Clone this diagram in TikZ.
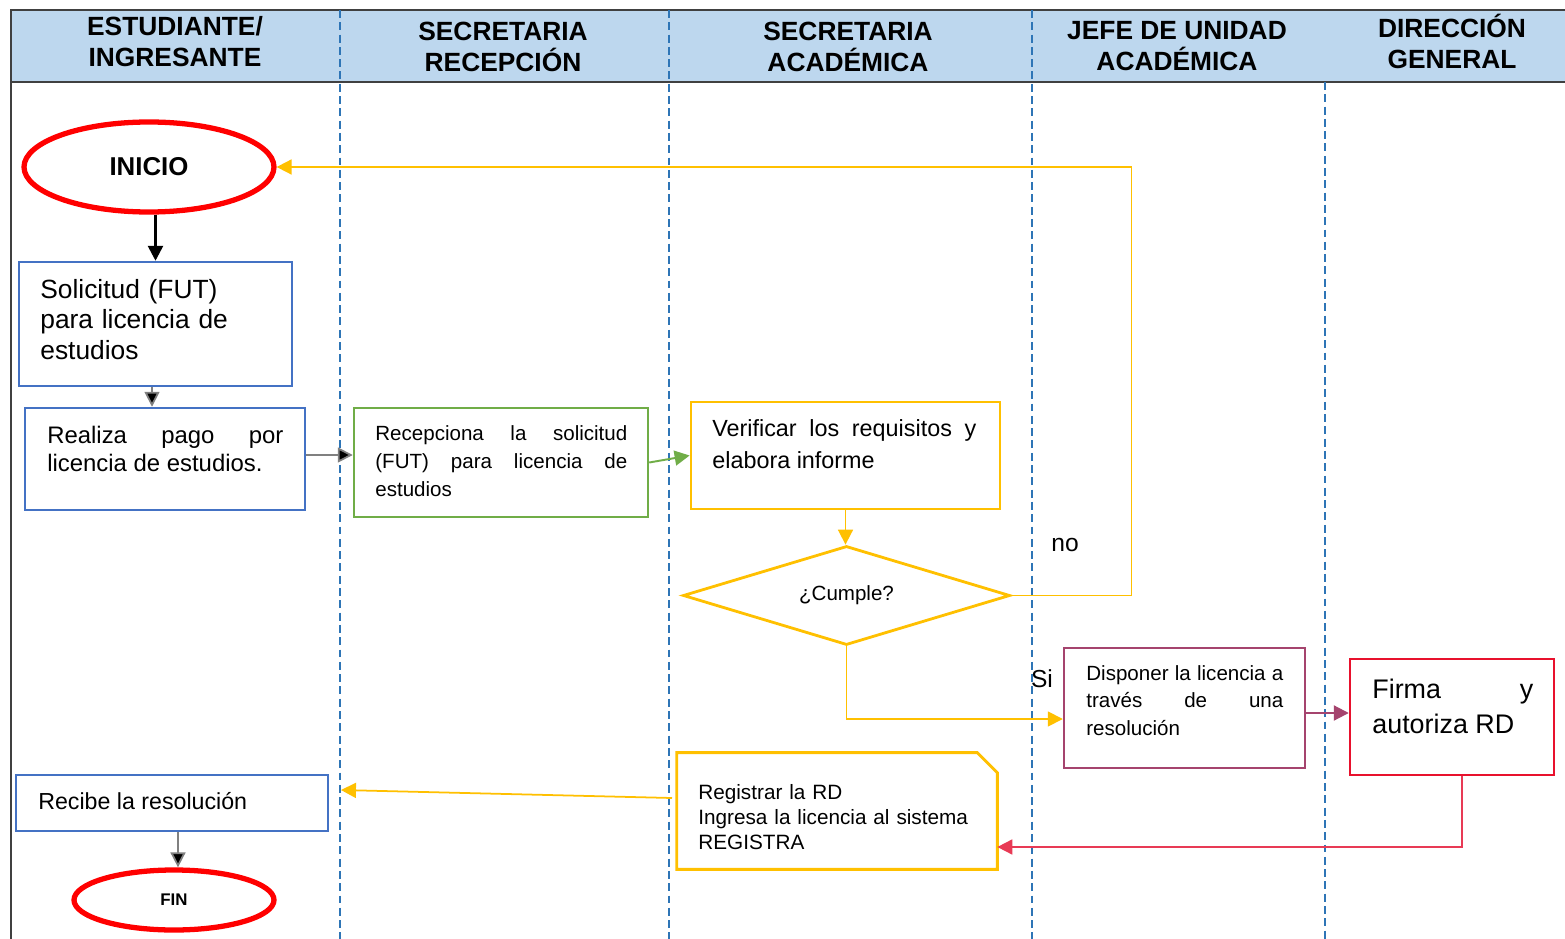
\documentclass[tikz,border=0pt]{standalone}
\usepackage{fontspec}
\setmainfont{Liberation Sans}
\usetikzlibrary{arrows.meta,shapes.geometric}
\definecolor{hdrfill}{HTML}{BDD7EE}
\definecolor{laneblue}{HTML}{2E75B6}
\definecolor{framegray}{HTML}{404040}
\definecolor{bblue}{HTML}{4472C4}
\definecolor{bgreen}{HTML}{70AD47}
\definecolor{gold}{HTML}{FFC000}
\definecolor{plum}{HTML}{A5446E}
\definecolor{crim}{HTML}{E8112D}
\definecolor{linkred}{HTML}{E83A55}
\definecolor{linkgray}{HTML}{808080}
\newcommand{\fsz}[2]{\fontsize{#1}{#2}\selectfont}

\begin{document}
\begin{tikzpicture}[x=0.02cm,y=-0.02cm,
  box/.style={draw,line width=1.4pt,inner sep=0pt,fill=white},
  dims/.style 2 args={minimum width=#1*0.02cm,minimum height=#2*0.02cm},
  txt/.style={inner sep=0pt,anchor=base west},
  hdr/.style={font=\fsz{15pt}{17.6pt}\bfseries,align=center,inner sep=0pt},
  term/.style={ellipse,draw=red,line width=3pt,inner sep=0pt,fill=white},
  link/.style={line width=1pt},
  tip/.style={-{Triangle[length=8.5pt,width=8.5pt]}},
  btip/.style={-{Triangle[length=8.5pt,width=8.5pt,fill=black]}},
  lane/.style={draw=laneblue,line width=0.8pt,dash pattern=on 4.5pt off 2.5pt}]

\useasboundingbox (0,0) rectangle (1565,939);
\fill[white] (0,0) rectangle (1565,939);

% header band and frame
\fill[hdrfill] (11,10) rectangle (1565,82);
\draw[framegray,line width=0.8pt] (1565,10) -- (11,10) -- (11,939);
\draw[framegray,line width=1pt] (11,82) -- (1565,82);

% lane separators
\draw[lane] (340,10) -- (340,939);
\draw[lane] (669,10) -- (669,939);
\draw[lane] (1032,10) -- (1032,939);
\draw[lane] (1325,82) -- (1325,939);

% lane titles
\node[hdr] (h1) at (175,41.5) {ESTUDIANTE/\\INGRESANTE};
\node[hdr] (h2) at (503,46.5) {SECRETARIA\\RECEPCIÓN};
\node[hdr] (h3) at (848,46.5) {SECRETARIA\\ACADÉMICA};
\node[hdr] (h4) at (1177,46.5) {JEFE DE UNIDAD\\ACADÉMICA};
\node[hdr] (h5) at (1452,41.5) {DIRECCIÓN\\GENERAL};

% terminals
\node[term,dims={250}{90},font=\fsz{14.7pt}{17pt}\bfseries] (ini) at (149,167) {INICIO};
\node[term,dims={200}{60},font=\fsz{9.6pt}{11pt}\bfseries] (fin) at (174,900) {FIN};

% process boxes
\node[box,draw=bblue,dims={273}{124}] (sol) at (155.5,324) {};
\node[txt,font=\fsz{15pt}{17.3pt},align=left,text width=240*0.02cm] (solt) at (40,298.5)
  {Solicitud (FUT)\\para licencia de\\estudios};

\node[box,draw=bblue,dims={280}{102}] (rea) at (165,459) {};
\node[txt,font=\fsz{13.6pt}{15.9pt},align=justify,text width=236*0.02cm] (reat) at (47,443.6)
  {Realiza pago por\linebreak licencia de estudios.};

\node[box,draw=bgreen,dims={294}{109}] (rec) at (501,462.5) {};
\node[txt,font=\fsz{11.7pt}{15.9pt},align=justify,text width=252*0.02cm] (rect) at (375,440.5)
  {Recepciona la solicitud\linebreak (FUT) para licencia de\linebreak estudios};

\node[box,draw=gold,line width=1.6pt,dims={309}{107}] (ver) at (845.5,455.5) {};
\node[txt,font=\fsz{13.3pt}{18.1pt},align=justify,text width=264*0.02cm] (vert) at (712,436.5)
  {Verificar los requisitos y\linebreak elabora informe};

\node[diamond,draw=gold,line width=1.6pt,inner sep=0pt,aspect=3.3,dims={327}{99},
  font=\fsz{11.7pt}{14pt}] (cum) at (846.5,595.5) {¿Cumple?};

\node[box,draw=plum,dims={241}{120}] (dis) at (1184.5,708) {};
\node[txt,font=\fsz{11.7pt}{15.6pt},align=justify,text width=197*0.02cm] (dist) at (1086,680.4)
  {Disponer la licencia a\linebreak través de una\linebreak resolución};

\node[box,draw=crim,dims={204}{116}] (fir) at (1452,717) {};
\node[txt,font=\fsz{15.3pt}{19.8pt},align=justify,text width=161*0.02cm] (firt) at (1372,698.7)
  {Firma y\linebreak autoriza RD};

\node[inner sep=0pt,dims={320}{116}] (reg) at (837,811) {};
\draw[gold,line width=1.6pt,fill=white] (reg.south west) -- (reg.north west)
  -- ([xshift=-0.4cm]reg.north east) -- ([yshift=-0.4cm]reg.north east)
  -- (reg.south east) -- cycle;
\node[txt,font=\fsz{11.8pt}{14.2pt},align=left,text width=290*0.02cm] (regt) at (698,799.5)
  {Registrar la RD\\Ingresa la licencia al sistema\\REGISTRA};

\node[box,draw=bblue,dims={312}{56}] (rcb) at (172,803) {};
\node[txt,font=\fsz{13.2pt}{15pt}] (rcbt) at (38,809.4) {Recibe la resolución};

% branch labels
\node[inner sep=0pt,font=\fsz{14pt}{16pt}] (lno) at (1065,545) {no};
\node[inner sep=0pt,font=\fsz{14pt}{16pt}] (lsi) at (1042,679) {Si};

% connectors
\draw[btip,line width=1.5pt,black] (ini.south -| sol.north) -- (sol.north);
\draw[link,linkgray,btip]
  ([xshift=-0.07cm]sol.south) -- ([xshift=-0.07cm]sol.south |- rea.north);
\draw[link,linkgray,btip]
  ([yshift=0.08cm]rea.east) -- ([yshift=0.08cm]rea.east -| rec.west);
\draw[tip,line width=1.1pt,bgreen] (rec.east) -- (ver.west);
\draw[tip,link,gold] (ver.south) -- (ver.south |- cum.north);
\draw[tip,link,gold] (cum.east) -- ++(120,0) |- (ini.east);
\draw[tip,link,gold] (cum.south) |- ([yshift=-0.22cm]dis.west);
\draw[tip,line width=1.2pt,plum] ([yshift=-0.1cm]dis.east) -- ([yshift=-0.1cm]dis.east -| fir.west);
\draw[tip,link,linkred] ([xshift=0.2cm]fir.south) |- ([yshift=-0.72cm]reg.east);
\coordinate (rego) at (672,798);
\coordinate (rcbi) at (341,790);
\draw[tip,link,gold] (rego) -- (rcbi);
\draw[link,linkgray,btip]
  ([xshift=0.12cm]rcb.south) -- ([xshift=0.12cm]rcb.south |- fin.north);
\end{tikzpicture}
\end{document}
